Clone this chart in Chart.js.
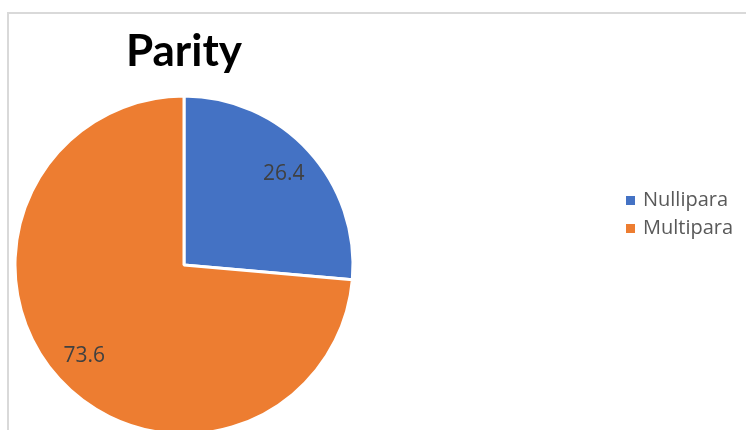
<!DOCTYPE html>
<html>
<head>
<meta charset="utf-8">
<script src="https://cdn.jsdelivr.net/npm/chart.js@4"></script>
<style>
  html, body { margin: 0; padding: 0; background: #fff; overflow: hidden; }
  #wrap { position: relative; width: 746px; height: 430px; }
  #frame {
    position: absolute; left: 7px; top: 12px; right: -10px; bottom: -10px;
    border-top: 2px solid #d9d9d9; border-left: 2px solid #d9d9d9;
  }
  canvas { position: absolute; left: 0; top: 0; }
</style>
</head>
<body>
<div id="wrap">
  <div id="frame"></div>
  <canvas id="parityChart" width="746" height="430"></canvas>
</div>
<script>
// data
const categories = ['Nullipara', 'Multipara'];
const parityValues = [26.4, 73.6];

const sliceColors = ['#4472C4', '#ED7D31'];

// label angka di dalam irisan (0.8 x radius)
const sliceLabels = {
    id: 'sliceLabels',
    afterDatasetsDraw(chart) {
        const ctx = chart.ctx;
        const meta = chart.getDatasetMeta(0);
        ctx.save();
        ctx.font = '21px "Open Sans"';
        ctx.fillStyle = '#404040';
        ctx.textAlign = 'center';
        ctx.textBaseline = 'middle';
        meta.data.forEach((arc, i) => {
            const mid = (arc.startAngle + arc.endAngle) / 2;
            const r = arc.outerRadius * 0.8;
            ctx.fillText(String(parityValues[i]), arc.x + Math.cos(mid) * r, arc.y + Math.sin(mid) * r);
        });
        ctx.restore();
    }
};

// legend di sebelah kanan
const sideLegend = {
    id: 'sideLegend',
    afterDraw(chart) {
        const ctx = chart.ctx;
        ctx.save();
        ctx.font = '20px "Open Sans"';
        ctx.textBaseline = 'middle';
        chart.data.labels.forEach((label, i) => {
            const y = 200 + i * 28;
            ctx.fillStyle = sliceColors[i];
            ctx.fillRect(626, y - 4, 9, 9);
            ctx.fillStyle = '#595959';
            ctx.fillText(label, 643, y);
        });
        ctx.restore();
    }
};

new Chart(document.getElementById('parityChart'), {
    type: 'pie',
    data: {
        labels: categories,
        datasets: [{
            data: parityValues,
            backgroundColor: sliceColors,
            borderColor: '#ffffff',
            borderWidth: 3,
            clip: false
        }]
    },
    options: {
        responsive: false,
        animation: false,
        radius: 169,
        layout: { padding: { left: 16, right: 394, top: 12, bottom: 0 } },
        plugins: {
            legend: { display: false },
            tooltip: { enabled: false },
            title: {
                display: true,
                text: 'Parity',
                fullSize: false,
                color: '#000000',
                font: { family: 'Lato', size: 44, weight: 'bold' },
                padding: { top: 13, bottom: 22.2 }
            }
        }
    },
    plugins: [sliceLabels, sideLegend]
});
</script>
</body>
</html>
